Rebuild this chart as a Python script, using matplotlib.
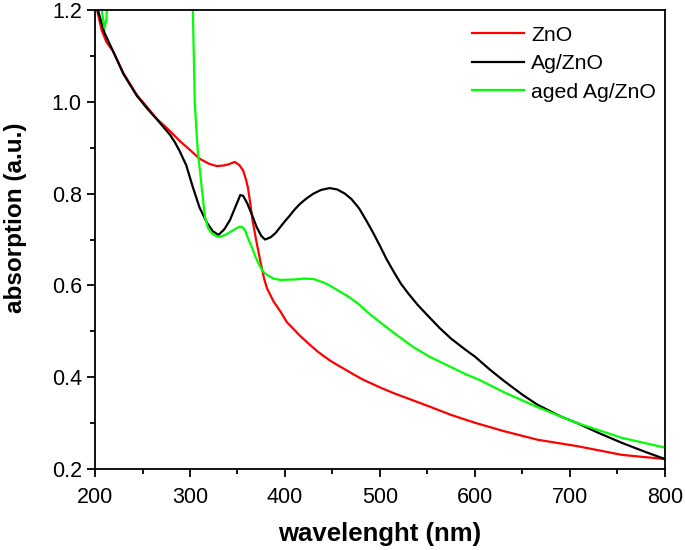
# UV-Vis absorption spectra: ZnO, Ag/ZnO and aged Ag/ZnO
import numpy as np
import matplotlib.pyplot as plt
from matplotlib.ticker import MultipleLocator

plt.rcParams['font.family'] = ['Liberation Sans', 'DejaVu Sans']

# ZnO
zno_wl = [201, 207, 212, 219, 230, 244, 255, 265, 277, 289, 300, 310, 320, 328, 335,
          341, 347, 352, 356, 359, 361, 363, 366, 370, 374, 378, 381, 388, 395, 402,
          410, 416, 425, 435, 447, 455, 465, 475, 482, 500, 515, 528, 550, 575, 600,
          630, 666, 708, 755, 800]
zno_abs = [1.21, 1.156, 1.13, 1.11, 1.062, 1.015, 0.988, 0.963, 0.94, 0.915, 0.895, 0.876,
           0.865, 0.860, 0.861, 0.864, 0.869, 0.862, 0.85, 0.83, 0.813, 0.785, 0.74,
           0.695, 0.653, 0.615, 0.594, 0.565, 0.544, 0.52, 0.503, 0.49, 0.473, 0.455,
           0.437, 0.427, 0.415, 0.403, 0.395, 0.378, 0.365, 0.355, 0.338, 0.318, 0.301,
           0.283, 0.264, 0.250, 0.231, 0.222]

# Ag/ZnO
ag_wl = [201, 203, 210, 219, 230, 244, 255, 265, 272, 279, 284, 289, 296, 303, 310, 318,
         324, 330, 336, 342, 348, 353, 356, 360, 365, 370, 375, 379, 385, 390, 395, 400,
         405, 410, 416, 423, 430, 438, 447, 455, 463, 470, 478, 486, 493, 500, 507, 515,
         522, 530, 540, 550, 563, 575, 590, 600, 615, 630, 650, 666, 690, 708, 730, 755,
         780, 800]
ag_abs = [1.22, 1.2, 1.15, 1.11, 1.06, 1.013, 0.985, 0.962, 0.945, 0.928, 0.912, 0.893,
          0.862, 0.814, 0.77, 0.736, 0.718, 0.710, 0.722, 0.742, 0.772, 0.797, 0.795,
          0.78, 0.755, 0.728, 0.708, 0.700, 0.705, 0.714, 0.727, 0.740, 0.752, 0.765,
          0.778, 0.790, 0.800, 0.808, 0.812, 0.809, 0.800, 0.788, 0.768, 0.740, 0.714,
          0.686, 0.657, 0.628, 0.604, 0.582, 0.557, 0.535, 0.507, 0.484, 0.460, 0.445,
          0.418, 0.393, 0.362, 0.340, 0.315, 0.300, 0.279, 0.257, 0.237, 0.222]

# aged Ag/ZnO (goes off scale between ~215 and ~302 nm)
aged_wl = [203, 207, 210, 212, 214, 216, 260, 302, 303, 305, 307, 308.5, 310.5, 312.5,
           315.8, 319, 323, 328, 332, 337, 342, 347, 352, 355, 358, 361, 365, 369, 374,
           378, 381, 388, 395, 410, 420, 430, 440, 447, 455, 465, 476, 488, 500, 517,
           535, 552, 570, 590, 605, 630, 666, 708, 755, 800]
aged_abs = [1.25, 1.2, 1.16, 1.18, 1.25, 1.3, np.nan, 1.3, 1.2, 1.0, 0.93, 0.885, 0.85,
            0.81, 0.749, 0.725, 0.714, 0.707, 0.706, 0.71, 0.716, 0.722, 0.728, 0.727,
            0.72, 0.703, 0.684, 0.662, 0.64, 0.628, 0.623, 0.615, 0.612, 0.613, 0.615,
            0.614, 0.607, 0.600, 0.590, 0.578, 0.562, 0.540, 0.520, 0.493, 0.466, 0.445,
            0.427, 0.407, 0.394, 0.368, 0.335, 0.30, 0.268, 0.247]

fig = plt.figure(figsize=(6.85, 5.5), dpi=100)
ax = fig.add_axes([0.1387, 0.147, 0.832, 0.835])

ax.plot(zno_wl, zno_abs, color='#ff0000', lw=1.6, label='ZnO')
ax.plot(ag_wl, ag_abs, color='black', lw=1.6, label='Ag/ZnO')
ax.plot(aged_wl, aged_abs, color='#00ff00', lw=1.6, label='aged Ag/ZnO')

ax.set_xlim(200, 800)
ax.set_ylim(0.2, 1.2)
ax.xaxis.set_major_locator(MultipleLocator(100))
ax.xaxis.set_minor_locator(MultipleLocator(50))
ax.yaxis.set_major_locator(MultipleLocator(0.2))
ax.yaxis.set_minor_locator(MultipleLocator(0.1))
ax.yaxis.set_major_formatter(plt.FormatStrFormatter('%.1f'))
ax.tick_params(which='major', direction='out', length=6, width=1.3, labelsize=15.5)
ax.tick_params(axis='x', which='major', pad=7)
ax.tick_params(which='minor', direction='out', length=3.5, width=1.3)
for s in ax.spines.values():
    s.set_linewidth(1.3)

ax.set_xlabel('wavelenght (nm)', fontsize=18.5, fontweight='bold', labelpad=10)
ax.set_ylabel('absorption (a.u.)', fontsize=17.5, fontweight='bold')
ax.yaxis.set_label_coords(-0.12, 0.547)

ax.legend(loc='upper right', frameon=False, fontsize=15.3, handlelength=2.45,
          handletextpad=0.33, labelspacing=0.45, borderaxespad=0.3,
          bbox_to_anchor=(1.0105, 0.998))

fig.savefig('out.png', dpi=100)
